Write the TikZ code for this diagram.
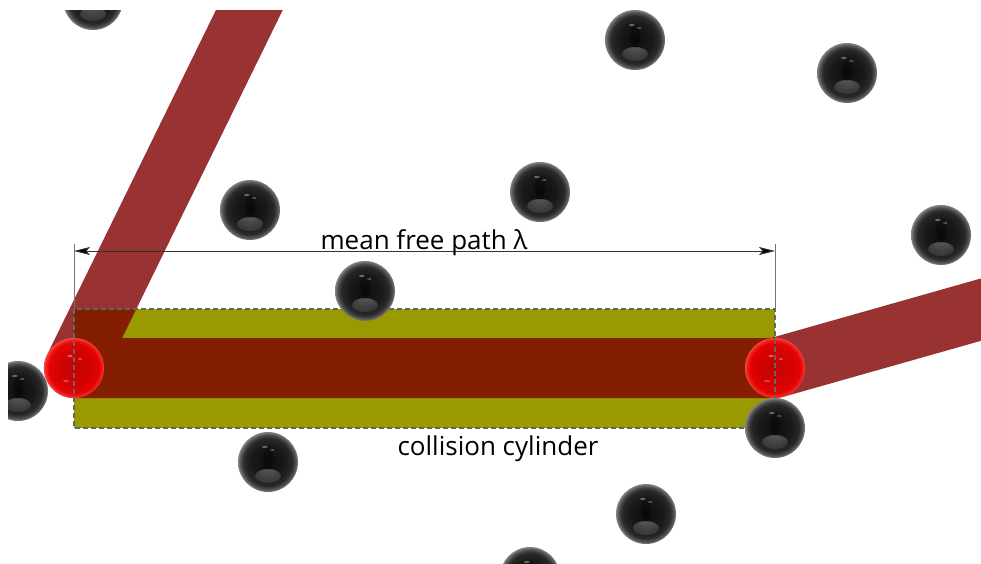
\documentclass[tikz,border=0pt]{standalone}
\usepackage{fontspec}
\setmainfont{Open Sans}
\usetikzlibrary{arrows.meta}

% glossy black ball: dark body, lighter grey rim
\pgfdeclareradialshading{blackballshade}{\pgfpoint{0bp}{0bp}}{%
  color(0bp)=(black!95); color(14bp)=(black!90); color(20bp)=(black!84);
  color(23bp)=(black!68); color(25bp)=(black!48); color(50bp)=(black!48)}
% soft reflection patch inside the balls
\pgfdeclareradialshading{glowshade}{\pgfpoint{0bp}{0bp}}{%
  color(0bp)=(black!45); color(25bp)=(black!88); color(50bp)=(black!88)}
% glossy red ball
\pgfdeclareradialshading{redballshade}{\pgfpoint{0bp}{0bp}}{%
  color(0bp)=(red!78!black); color(14bp)=(red!85!black); color(21bp)=(red!92!black);
  color(24bp)=(red!85!white); color(25bp)=(red!70!white); color(50bp)=(red!70!white)}

\definecolor{olive}{RGB}{153,153,0}
\definecolor{beamred}{RGB}{127,0,0}
\definecolor{dimgray}{RGB}{50,50,50}

\tikzset{
  ball/.style={circle, minimum size=60pt, inner sep=0pt, outer sep=0pt},
  blackball/.style={ball, shade, shading=blackballshade,
    path picture={
      \shade[shading=glowshade, opacity=0.7] ([yshift=-14pt]path picture bounding box.center) ellipse (13pt and 7pt);
      \fill[green!30!white, opacity=0.4] ([xshift=-3pt,yshift=15pt]path picture bounding box.center) ellipse (3pt and 1.2pt);
      \fill[green!30!white, opacity=0.3] ([xshift=4pt,yshift=12pt]path picture bounding box.center) ellipse (2.5pt and 1pt);
      \fill[black, opacity=0.25] ([yshift=4pt]path picture bounding box.center) ellipse (5pt and 12pt);
    }},
  redball/.style={ball, shade, shading=redballshade, opacity=0.92,
    path picture={
      \fill[white, opacity=0.35] ([xshift=-4pt,yshift=12pt]path picture bounding box.center) ellipse (2.5pt and 1.2pt);
      \fill[white, opacity=0.3] ([xshift=6pt,yshift=9pt]path picture bounding box.center) ellipse (2pt and 1pt);
      \fill[white, opacity=0.25] ([xshift=-8pt,yshift=-13pt]path picture bounding box.center) ellipse (3pt and 1.2pt);
    }},
  cylfill/.style={fill=olive},
  cylborder/.style={draw=black!60, line width=1.1pt, dash pattern=on 5pt off 3pt},
  beam/.style={draw=beamred, draw opacity=0.8, line width=60pt, line join=round, line cap=butt},
  extline/.style={draw=black!55, line width=0.9pt},
  dimline/.style={draw=dimgray, line width=0.9pt,
    {Stealth[length=16pt,width=8pt,inset=3.5pt,fill=black]}-{Stealth[length=16pt,width=8pt,inset=3.5pt,fill=black]}},
  lbl/.style={font=\fontsize{26}{30}\selectfont, inner sep=0pt, anchor=base, text=black},
}

\begin{document}
\begin{tikzpicture}[x=1pt, y=-1pt]
  \useasboundingbox (0,0) rectangle (981,563);
  \begin{scope}
    \clip (8,10) rectangle (981,563);

    % key points: collision spheres and cylinder corners
    \coordinate (hitA) at (74,368);
    \coordinate (hitB) at (775,368);
    \coordinate (cylTL) at (74,309);
    \coordinate (cylTR) at (775,309);
    \coordinate (cylBR) at (775,428);
    \coordinate (inA) at (267,-26);
    \coordinate (outB) at (1022,298);

    % collision cylinder
    \fill[cylfill] (cylTL) rectangle (cylBR);

    % trajectory of the moving particle
    \draw[beam] (inA) -- (hitA) -- (hitB) -- (outB);

    % moving particle at the two collisions
    \node[redball] (redA) at (hitA) {};
    \node[redball] (redB) at (hitB) {};

    % cylinder outline
    \draw[cylborder] (cylTL) rectangle (cylBR);

    % background particles
    \node[blackball] (b1) at (93,0) {};
    \node[blackball] (b2) at (635,40) {};
    \node[blackball] (b3) at (847,73) {};
    \node[blackball] (b4) at (250,210) {};
    \node[blackball] (b5) at (540,192) {};
    \node[blackball] (b6) at (941,235) {};
    \node[blackball] (b7) at (365,291) {};
    \node[blackball] (b8) at (18,391) {};
    \node[blackball] (b9) at (268,462) {};
    \node[blackball] (b10) at (775,428) {};
    \node[blackball] (b11) at (646,514) {};
    \node[blackball] (b12) at (530,577) {};

    % dimension line for the mean free path
    \coordinate (extA) at (74,244);
    \coordinate (extB) at (775,244);
    \coordinate (dimA) at (74,251);
    \coordinate (dimB) at (775,251);
    \draw[extline] (extA) -- (cylTL);
    \draw[extline] (extB) -- (cylTR);
    \draw[dimline] (dimA) -- (dimB);

    \node[lbl] (lambda) at (424,249) {mean free path λ};
    \node[lbl] (cyl) at (498,455) {collision cylinder};
  \end{scope}
\end{tikzpicture}
\end{document}
